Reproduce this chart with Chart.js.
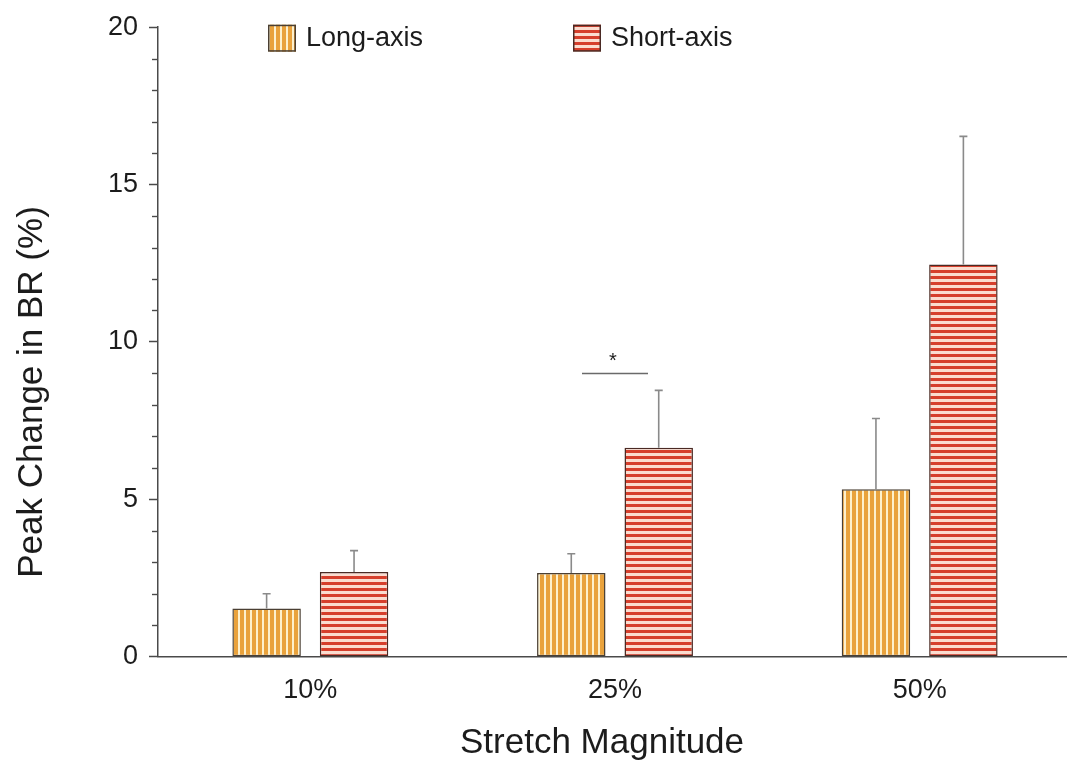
<!DOCTYPE html>
<html>
<head>
<meta charset="utf-8">
<script src="https://cdn.jsdelivr.net/npm/chart.js@4.4.1/dist/chart.umd.min.js"></script>
<style>
  html, body { margin: 0; padding: 0; background: #ffffff; overflow: hidden; }
  #wrap { width: 1067px; height: 763px; overflow: hidden; }
  #c { display: block; }
</style>
</head>
<body>
<div id="wrap"><canvas id="c" width="1072" height="763"></canvas></div>
<script>
// ---- data ----
const categories = ['10%', '25%', '50%'];
const seriesNames = ['Long-axis', 'Short-axis'];
const longAxis = [1.53, 2.66, 5.32];
const longAxisSD = [0.47, 0.61, 2.25];
const shortAxis = [2.69, 6.64, 12.46];
const shortAxisSD = [0.68, 1.82, 4.07];
const yRange = [0, 20];
const yMajorStep = 5;
const yMinorStep = 1;
const xTitle = 'Stretch Magnitude';
const yTitle = 'Peak Change in BR (%)';
// significant long- vs short-axis difference at 25 % stretch
const sigCategory = 1;
const sigLevel = 9.0;
const sigMark = '*';

// ---- styling ----
const FONT = '"Liberation Sans", Arial, Helvetica, sans-serif';
const INK = '#1c1c1c';
const AXIS = '#4a4a4a';
const canvas = document.getElementById('c');
const ctx2d = canvas.getContext('2d');

function stripePattern(vertical, fg, bg, fgSize, period) {
  const c = document.createElement('canvas');
  c.width = period; c.height = period;
  const g = c.getContext('2d');
  g.fillStyle = bg; g.fillRect(0, 0, period, period);
  g.fillStyle = fg;
  if (vertical) g.fillRect(0, 0, fgSize, period);
  else g.fillRect(0, 0, period, fgSize);
  return ctx2d.createPattern(c, 'repeat');
}

const longFill = stripePattern(true, '#e9a23c', '#fdf0cc', 4, 6);
const shortFill = stripePattern(false, '#d63f2c', '#fbdccf', 3, 6);
const longEdge = '#4a3f33';
const shortEdge = '#4a2a24';

// upward SD whiskers
const errorBars = {
  id: 'errorBars',
  afterDatasetsDraw(chart) {
    const {ctx, scales: {y}} = chart;
    ctx.save();
    ctx.strokeStyle = '#8a8a8a';
    ctx.lineWidth = 1.6;
    chart.data.datasets.forEach((ds, di) => {
      const meta = chart.getDatasetMeta(di);
      meta.data.forEach((bar, i) => {
        const top = y.getPixelForValue(ds.data[i] + ds.sd[i]);
        ctx.beginPath();
        ctx.moveTo(bar.x, bar.y);
        ctx.lineTo(bar.x, top);
        ctx.moveTo(bar.x - 4, top);
        ctx.lineTo(bar.x + 4, top);
        ctx.stroke();
      });
    });
    ctx.restore();
  }
};

// unlabelled minor ticks on the value axis
const minorTicks = {
  id: 'minorTicks',
  afterDraw(chart) {
    const {ctx, scales: {y}, chartArea} = chart;
    ctx.save();
    ctx.strokeStyle = AXIS;
    ctx.lineWidth = 1.4;
    for (let v = yRange[0]; v <= yRange[1]; v += yMinorStep) {
      if (v % yMajorStep === 0) continue;
      const py = Math.round(y.getPixelForValue(v)) + 0.5;
      ctx.beginPath();
      ctx.moveTo(chartArea.left - 6, py);
      ctx.lineTo(chartArea.left, py);
      ctx.stroke();
    }
    ctx.restore();
  }
};

// significance bracket
const significance = {
  id: 'significance',
  afterDraw(chart) {
    const {ctx, scales: {x, y}} = chart;
    const cx = x.getPixelForValue(sigCategory);
    const py = y.getPixelForValue(sigLevel);
    ctx.save();
    ctx.strokeStyle = '#6a6a6a';
    ctx.lineWidth = 1.4;
    ctx.beginPath();
    ctx.moveTo(cx - 33, py);
    ctx.lineTo(cx + 33, py);
    ctx.stroke();
    ctx.fillStyle = INK;
    ctx.font = '20px ' + FONT;
    ctx.textAlign = 'center';
    ctx.textBaseline = 'alphabetic';
    ctx.fillText(sigMark, cx - 2, py - 6);
    ctx.restore();
  }
};

// axis titles, placed in the margins reserved by the scales
const axisTitles = {
  id: 'axisTitles',
  afterDraw(chart) {
    const {ctx} = chart;
    ctx.save();
    ctx.fillStyle = INK;
    ctx.font = '35px ' + FONT;
    ctx.textAlign = 'center';
    ctx.textBaseline = 'alphabetic';
    ctx.fillText(xTitle, 602, 753);
    ctx.translate(42, 392);
    ctx.rotate(-Math.PI / 2);
    ctx.fillText(yTitle, 0, 0);
    ctx.restore();
  }
};

// legend drawn inside the plotting area
const insetLegend = {
  id: 'insetLegend',
  afterDraw(chart) {
    const {ctx, chartArea} = chart;
    const offsets = [110, 415];
    ctx.save();
    ctx.font = '27px ' + FONT;
    ctx.textBaseline = 'middle';
    ctx.textAlign = 'left';
    chart.data.datasets.forEach((ds, i) => {
      const bx = chartArea.left + offsets[i];
      const by = chartArea.top - 2.5;
      ctx.fillStyle = ds.backgroundColor;
      ctx.fillRect(bx, by, 28, 27);
      ctx.strokeStyle = ds.borderColor;
      ctx.lineWidth = 1.5;
      ctx.strokeRect(bx + 0.75, by + 0.75, 26.5, 25.5);
      ctx.fillStyle = INK;
      ctx.fillText(ds.label, bx + 38, by + 14);
    });
    ctx.restore();
  }
};

new Chart(canvas, {
  type: 'bar',
  data: {
    labels: categories,
    datasets: [
      {
        label: seriesNames[0], data: longAxis, sd: longAxisSD,
        backgroundColor: longFill, borderColor: longEdge, borderWidth: 1.5,
        borderSkipped: false, barPercentage: 0.783, categoryPercentage: 0.574
      },
      {
        label: seriesNames[1], data: shortAxis, sd: shortAxisSD,
        backgroundColor: shortFill, borderColor: shortEdge, borderWidth: 1.5,
        borderSkipped: false, barPercentage: 0.783, categoryPercentage: 0.574
      }
    ]
  },
  options: {
    responsive: false,
    animation: false,
    events: [],
    layout: { padding: { top: 24, right: 0, left: 0, bottom: 0 } },
    plugins: { legend: { display: false }, tooltip: { enabled: false } },
    scales: {
      x: {
        grid: { display: false, drawTicks: false },
        border: { display: true, color: AXIS, width: 1.5 },
        ticks: { color: INK, font: { family: FONT, size: 27 }, padding: 18 },
        title: { display: false },
        afterFit(s) { s.height = 106.3; }
      },
      y: {
        min: yRange[0], max: yRange[1],
        grid: { drawOnChartArea: false, tickLength: 9, tickColor: AXIS, tickWidth: 1.5, color: AXIS },
        border: { display: true, color: AXIS, width: 1.5 },
        ticks: { stepSize: yMajorStep, color: INK, font: { family: FONT, size: 27 }, padding: 11 },
        title: { display: false },
        afterFit(s) { s.width = 158; }
      }
    }
  },
  plugins: [errorBars, minorTicks, significance, axisTitles, insetLegend]
});
</script>
</body>
</html>
